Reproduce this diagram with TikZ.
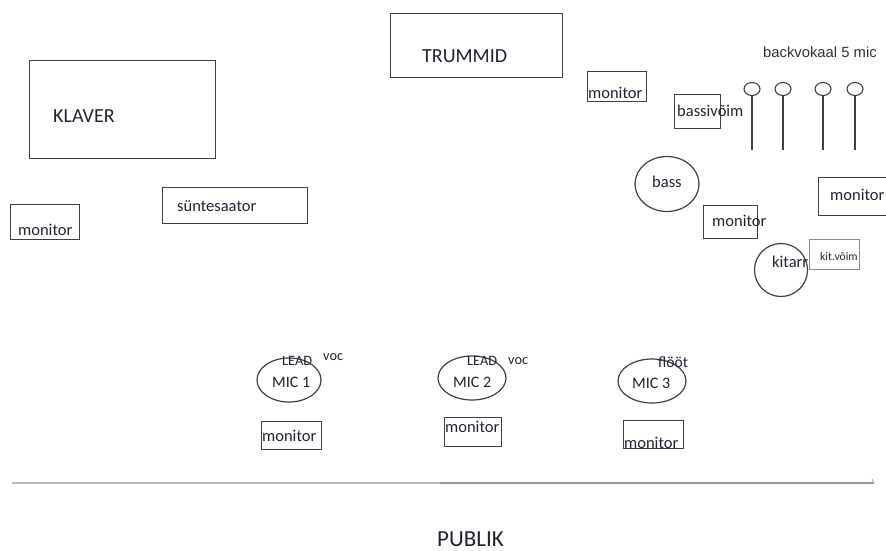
\documentclass[tikz,border=0pt]{standalone}
\usepackage{fontspec}
\setmainfont{Carlito}
\newfontfamily\arialf{Liberation Sans}
\usetikzlibrary{shapes.geometric}
\definecolor{edge}{HTML}{404040}
\definecolor{ink}{HTML}{222233}
\begin{document}
\begin{tikzpicture}[x=1pt,y=-1pt,
  box/.style={draw=edge, line width=1.2pt, inner sep=0pt, anchor=north west, fill=none},
  oval/.style={draw=edge, line width=1.2pt, ellipse, inner sep=0pt},
  stand/.style={draw=edge, line width=1.1pt},
  lbl/.style={inner sep=0pt, anchor=base west, text=ink, font=\fontsize{16.5}{18}\selectfont},
  big/.style={lbl, font=\fontsize{20}{22}\selectfont},
  small/.style={lbl, font=\fontsize{14.3}{16}\selectfont}]
\useasboundingbox (0,0) rectangle (886,550);

% boxes
\node[box, minimum width=186pt, minimum height=98pt] (klaver) at (29,60) {};
\node[box, minimum width=172pt, minimum height=64pt] (trummid) at (390,13) {};
\node[box, minimum width=59pt, minimum height=30pt] (montop) at (587,71) {};
\node[box, minimum width=46pt, minimum height=34pt] (bassamp) at (674,94) {};
\node[box, minimum width=145pt, minimum height=36pt] (synth) at (162,187) {};
\node[box, minimum width=69pt, minimum height=35pt] (monleft) at (10,204) {};
\node[box, minimum width=54pt, minimum height=33pt] (monmid) at (703,205) {};
\node[box, minimum width=76pt, minimum height=38pt] (monright) at (818,177) {};
\node[box, draw=black!45, line width=0.9pt, minimum width=50pt, minimum height=30pt] (kitamp) at (809,239) {};
\node[box, minimum width=60pt, minimum height=28pt] (monA) at (261,421) {};
\node[box, minimum width=57pt, minimum height=29pt] (monB) at (444,417) {};
\node[box, minimum width=60pt, minimum height=28pt] (monC) at (623,420) {};

% ovals
\node[oval, minimum width=64pt, minimum height=55pt] (bass) at (667,184) {};
\node[oval, minimum width=53pt, minimum height=53pt] (kitarr) at (781,270) {};
\node[oval, minimum width=64pt, minimum height=44pt] (mic1) at (289,380) {};
\node[oval, minimum width=68pt, minimum height=44pt] (mic2) at (472,378) {};
\node[oval, minimum width=68pt, minimum height=44pt] (mic3) at (652,381) {};

% backing vocal mic stands
\foreach \i/\x in {1/752,2/783,3/823,4/855}{
  \node[oval, line width=1.1pt, minimum width=16pt, minimum height=13pt] (bv\i) at (\x,89) {};
  \coordinate (bvb\i) at (\x,150);
  \draw[stand] (bv\i.south) -- (bvb\i);
}

% audience line
\coordinate (la) at (12,483);
\coordinate (lm) at (440,483);
\coordinate (lb) at (874,483);
\coordinate (lt) at (872,479);
\draw[gray!55, line width=1.8pt] (la) -- (lm);
\draw[gray!80, line width=1.8pt] (lm) -- (lb);
\draw[gray!70, line width=0.8pt] (lb) -- (lt);

% texts
\node[big] (tklaver) at (53,122) {KLAVER};
\node[big] (ttrummid) at (422,62) {TRUMMID};
\node[lbl] (tmontop) at (588,98) {monitor};
\node[lbl] (tbassamp) at (677,116) {bassivõim};
\node[lbl, font=\arialf\fontsize{14.8}{16}\selectfont, text=black!80] (tbv) at (763,57) {backvokaal 5 mic};
\node[lbl] (tbass) at (652,187) {bass};
\node[lbl] (tmonmid) at (712,226) {monitor};
\node[lbl] (tmonright) at (830,200) {monitor};
\node[lbl] (tkitarr) at (772,267) {kitarr};
\node[lbl, font=\fontsize{11.6}{13}\selectfont] (tkitamp) at (820,260) {kit.võim};
\node[lbl] (tmonleft) at (18,235) {monitor};
\node[lbl] (tsynth) at (177,211) {süntesaator};
\node[lbl, font=\fontsize{16}{18}\selectfont] (tmic1) at (272,387) {MIC 1};
\node[lbl, font=\fontsize{16}{18}\selectfont] (tmic2) at (453,387) {MIC 2};
\node[lbl, font=\fontsize{16}{18}\selectfont] (tmic3) at (632,388) {MIC 3};
\node[small] (tlead1) at (282,365) {LEAD};
\node[small] (tvoc1) at (323,360) {voc};
\node[small] (tlead2) at (467,365) {LEAD};
\node[small] (tvoc2) at (508,364) {voc};
\node[lbl, font=\fontsize{15.6}{17}\selectfont] (tfloot) at (658,367) {flööt};
\node[lbl] (tmonA) at (262,441) {monitor};
\node[lbl] (tmonB) at (445,432) {monitor};
\node[lbl] (tmonC) at (624,448) {monitor};
\node[lbl, font=\fontsize{23}{25}\selectfont] (tpublik) at (437,546) {PUBLIK};
\end{tikzpicture}
\end{document}
